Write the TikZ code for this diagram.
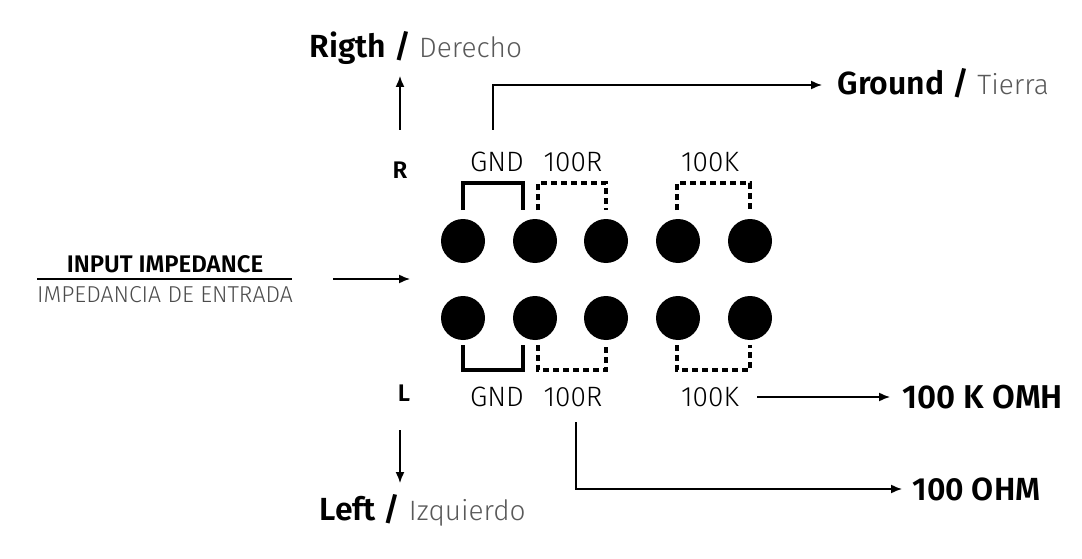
\documentclass[tikz,border=0pt]{standalone}
\usepackage{fontspec}
\setmainfont{Fira Sans}[BoldFont={Fira Sans SemiBold}]
\newfontfamily\lightfam{Fira Sans Light}
\newcommand\light{\lightfam}
\usetikzlibrary{arrows.meta}
\begin{document}
\begin{tikzpicture}[x=1pt,y=-1pt,
 dot/.style={circle,fill=black,minimum size=44pt,inner sep=0},
 lbl/.style={font=\fontsize{28}{30}\selectfont\light},
 big/.style={font=\fontsize{32}{34}\selectfont},
 br/.style={line width=3.4pt},
 dbr/.style={line width=3.4pt,dash pattern=on 6pt off 4pt},
 arr/.style={-{Latex[length=11pt,width=9pt]},line width=1.5pt}]
\useasboundingbox (0,0) rectangle (1082,559);
\foreach \i/\x in {1/463,2/535,3/606,4/678,5/750}{
 \node[dot] (t\i) at (\x,241) {};
 \node[dot] (b\i) at (\x,318) {};}
\draw[br] (463,210) -- (463,183) -- (523,183) -- (523,210);
\draw[dbr] (538,210) -- (538,183) -- (606,183) -- (606,210);
\draw[dbr] (677,210) -- (677,183) -- (750,183) -- (750,210);
\draw[br] (463,345) -- (463,370) -- (523,370) -- (523,345);
\draw[dbr] (538,345) -- (538,370) -- (606,370) -- (606,345);
\draw[dbr] (677,345) -- (677,370) -- (750,370) -- (750,345);
\node[lbl] (g1) at (497,162) {GND};
\node[lbl] (r1) at (573,162) {100R};
\node[lbl] (k1) at (710,162) {100K};
\node[lbl] (g2) at (497,397) {GND};
\node[lbl] (r2) at (573,397) {100R};
\node[lbl] (k2) at (710,397) {100K};
\node[font=\fontsize{24}{26}\selectfont\bfseries] (R) at (400,170) {R};
\node[font=\fontsize{24}{26}\selectfont\bfseries] (L) at (404,393) {L};
\node[big,anchor=west] (right) at (306,48) {\textbf{Rigth /} {\color{black!65}\light\fontsize{28}{30}\selectfont Derecho}};
\node[big,anchor=west] (left) at (316,510) {\textbf{Left /} {\color{black!65}\light\fontsize{28}{30}\selectfont Izquierdo}};
\node[big,anchor=west] (gnd) at (834,83) {\textbf{Ground /} {\color{black!65}\light\fontsize{28}{30}\selectfont Tierra}};
\node[anchor=west,font=\fontsize{33}{35}\selectfont\bfseries] (k) at (899,397) {100 K OMH};
\node[anchor=west,font=\fontsize{32}{34}\selectfont\bfseries] (o) at (909,489) {100 OHM};
\node[font=\fontsize{24}{26}\selectfont\bfseries] (in) at (165,264) {INPUT IMPEDANCE};
\node[font=\fontsize{23}{25}\selectfont\light,text=black!70] (in2) at (165,295) {IMPEDANCIA DE ENTRADA};
\draw[line width=1.5pt] (37,279) -- (292,279);
\coordinate (ia) at (333,279); \coordinate (ib) at (410,279);
\draw[arr] (ia) -- (ib);
\coordinate (ua) at (400,130); \coordinate (ub) at (400,76);
\draw[arr] (ua) -- (ub);
\coordinate (da) at (400,430); \coordinate (db) at (400,483);
\draw[arr] (da) -- (db);
\coordinate (ga) at (493,130); \coordinate (gb) at (822,85);
\draw[arr] (ga) -- (493,85) -- (gb);
\coordinate (ka) at (757,397);
\draw[arr] (ka) -- (890,397);
\coordinate (ra) at (576,422); \coordinate (rb) at (902,489);
\draw[arr] (ra) -- (576,489) -- (rb);
\end{tikzpicture}
\end{document}
